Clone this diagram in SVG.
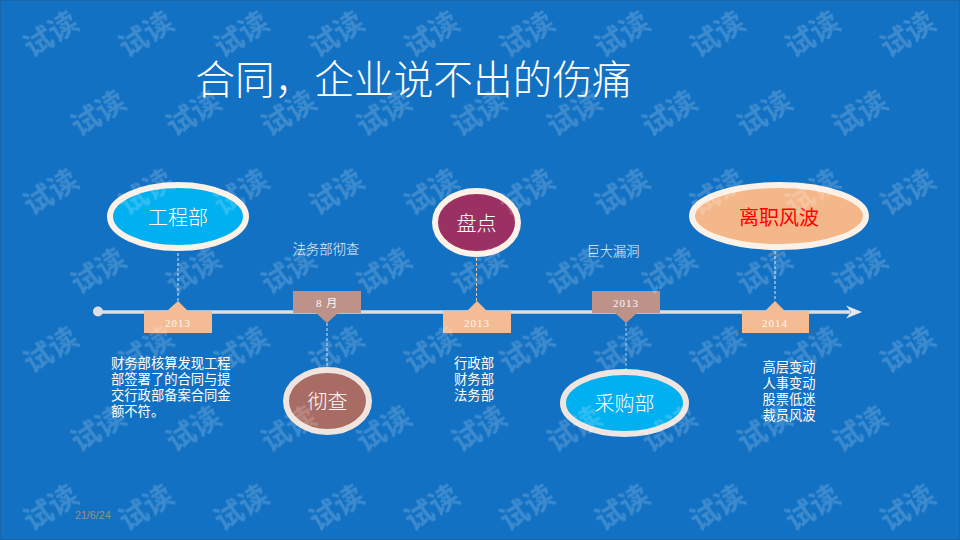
<svg xmlns="http://www.w3.org/2000/svg" width="960" height="540" viewBox="0 0 960 540">
<style>
text{font-family:"Noto Sans CJK SC","Liberation Sans",sans-serif;fill:#fff}
.node{stroke-width:6}
.lbl{font-size:20px;font-weight:300;text-anchor:middle}
.body{font-size:13.3px;text-anchor:middle}
.note{font-size:13.3px}
.cap{font-size:13.3px;font-family:"Liberation Serif","Noto Sans CJK SC",serif;font-weight:300;text-anchor:middle;fill:#EEF4FA}
.yr{font-size:11px;font-family:"Liberation Serif","Noto Sans CJK SC",serif;letter-spacing:1px;text-anchor:middle;fill:#FFF8F2}
.dash{fill:none;stroke:#DCE8F2;stroke-width:1;stroke-dasharray:3 2}
.up{fill:#F4BC94}
.dn{fill:#BD9389}
.wm{font-size:29px;font-weight:700;text-anchor:middle;fill:#fff;fill-opacity:.18}
</style>
<defs>
<pattern id="wmA" patternUnits="userSpaceOnUse" x="8.600" y="0" width="95.200" height="157.800">
<text class="wm" transform="translate(47.600,43) rotate(-32)">试读</text>
</pattern>
<pattern id="wmB" patternUnits="userSpaceOnUse" x="56" y="0" width="95.200" height="157.800">
<text class="wm" transform="translate(47.600,122) rotate(-32)">试读</text>
</pattern>
</defs>
<rect id="background" x="0.500" y="0.500" width="959" height="539" fill="#1271C3" stroke="#1766AC"/>
<text id="title" x="413.500" y="94" font-size="39.700" font-weight="300" text-anchor="middle">合同，企业说不出的伤痛</text>
<g id="connectors">
<line x1="98" y1="312" x2="850" y2="312" stroke="#DEDFE2" stroke-width="3.500"/>
<circle cx="98" cy="311.500" r="5" fill="#DEDFE2"/>
<polygon points="846,305.500 862,312 846,318.500 851,312" fill="#E6E8EA"/>
<line class="dash" x1="178" y1="253" x2="178" y2="301"/>
<line class="dash" x1="327" y1="323" x2="327" y2="367"/>
<line class="dash" x1="476.500" y1="258" x2="476.500" y2="301" style="stroke:#F4C9A6"/>
<line class="dash" x1="626" y1="323" x2="626" y2="369" style="stroke:#B8CBDC"/>
<line class="dash" x1="775" y1="251" x2="775" y2="301"/>
</g>
<g id="marker-1"><polygon class="up" points="144,311 167,311 178,301 188,311 212,311 212,333 144,333"/><text class="yr" x="178" y="327">2013</text></g>
<g id="marker-2"><polygon class="dn" points="293,291 361,291 361,313 338,313 327,323 316,313 293,313"/><text class="yr" x="327" y="307">8 月</text></g>
<g id="marker-3"><polygon class="up" points="443,311 467,311 477,301 487,311 511,311 511,333 443,333"/><text class="yr" x="477" y="327">2013</text></g>
<g id="marker-4"><polygon class="dn" points="592,291 660,291 660,313 637,313 626,323 615,313 592,313"/><text class="yr" x="626" y="307">2013</text></g>
<g id="marker-5"><polygon class="up" points="742,311 765,311 775,301 785,311 809,311 809,333 742,333"/><text class="yr" x="775" y="327">2014</text></g>
<g id="node-gongcheng"><ellipse class="node" cx="178" cy="216.500" rx="68" ry="31.500" fill="#00B0F0" stroke="#FDF1E8"/><text class="lbl" x="178" y="225">工程部</text></g>
<g id="node-chache"><ellipse class="node" cx="327.500" cy="401" rx="41.500" ry="31" fill="#A96C64" stroke="#F0E4DE"/><text class="lbl" x="327.500" y="409">彻查</text></g>
<g id="node-pandian"><ellipse class="node" cx="476.500" cy="222.500" rx="41.500" ry="31.500" fill="#9B3163" stroke="#FDF1E8"/><text class="lbl" x="476.500" y="231">盘点</text></g>
<g id="node-caigou"><ellipse class="node" cx="624.500" cy="403" rx="61.500" ry="31" fill="#00B0F0" stroke="#EFE5E0"/><text class="lbl" x="624.500" y="411">采购部</text></g>
<g id="node-lizhi"><ellipse class="node" cx="779" cy="216" rx="87" ry="31" fill="#F4B78A" stroke="#FCF1E6"/><text class="lbl" x="779" y="224.500" style="fill:#F00;font-weight:400">离职风波</text></g>
<g id="captions">
<text class="cap" x="326" y="254">法务部彻查</text>
<text class="cap" x="613" y="256">巨大漏洞</text>
</g>
<g id="notes">
<text class="note"><tspan x="111" y="367.500">财务部核算发现工程</tspan><tspan x="111" y="384">部签署了的合同与提</tspan><tspan x="111" y="400">交行政部备案合同金</tspan><tspan x="111" y="416">额不符。</tspan></text>
<text class="body"><tspan x="474" y="368">行政部</tspan><tspan x="474" y="384">财务部</tspan><tspan x="474" y="400">法务部</tspan></text>
<text class="body"><tspan x="789" y="372">高层变动</tspan><tspan x="789" y="388">人事变动</tspan><tspan x="789" y="404">股票低迷</tspan><tspan x="789" y="420">裁员风波</tspan></text>
</g>
<text id="date" x="75" y="519" font-size="10.670" style="font-family:'Liberation Sans',sans-serif;fill:#9A8F86">21/6/24</text>
<rect id="watermark-a" x="18" y="0" width="930" height="540" fill="url(#wmA)"/>
<rect id="watermark-b" x="63" y="0" width="835" height="540" fill="url(#wmB)"/>
</svg>
